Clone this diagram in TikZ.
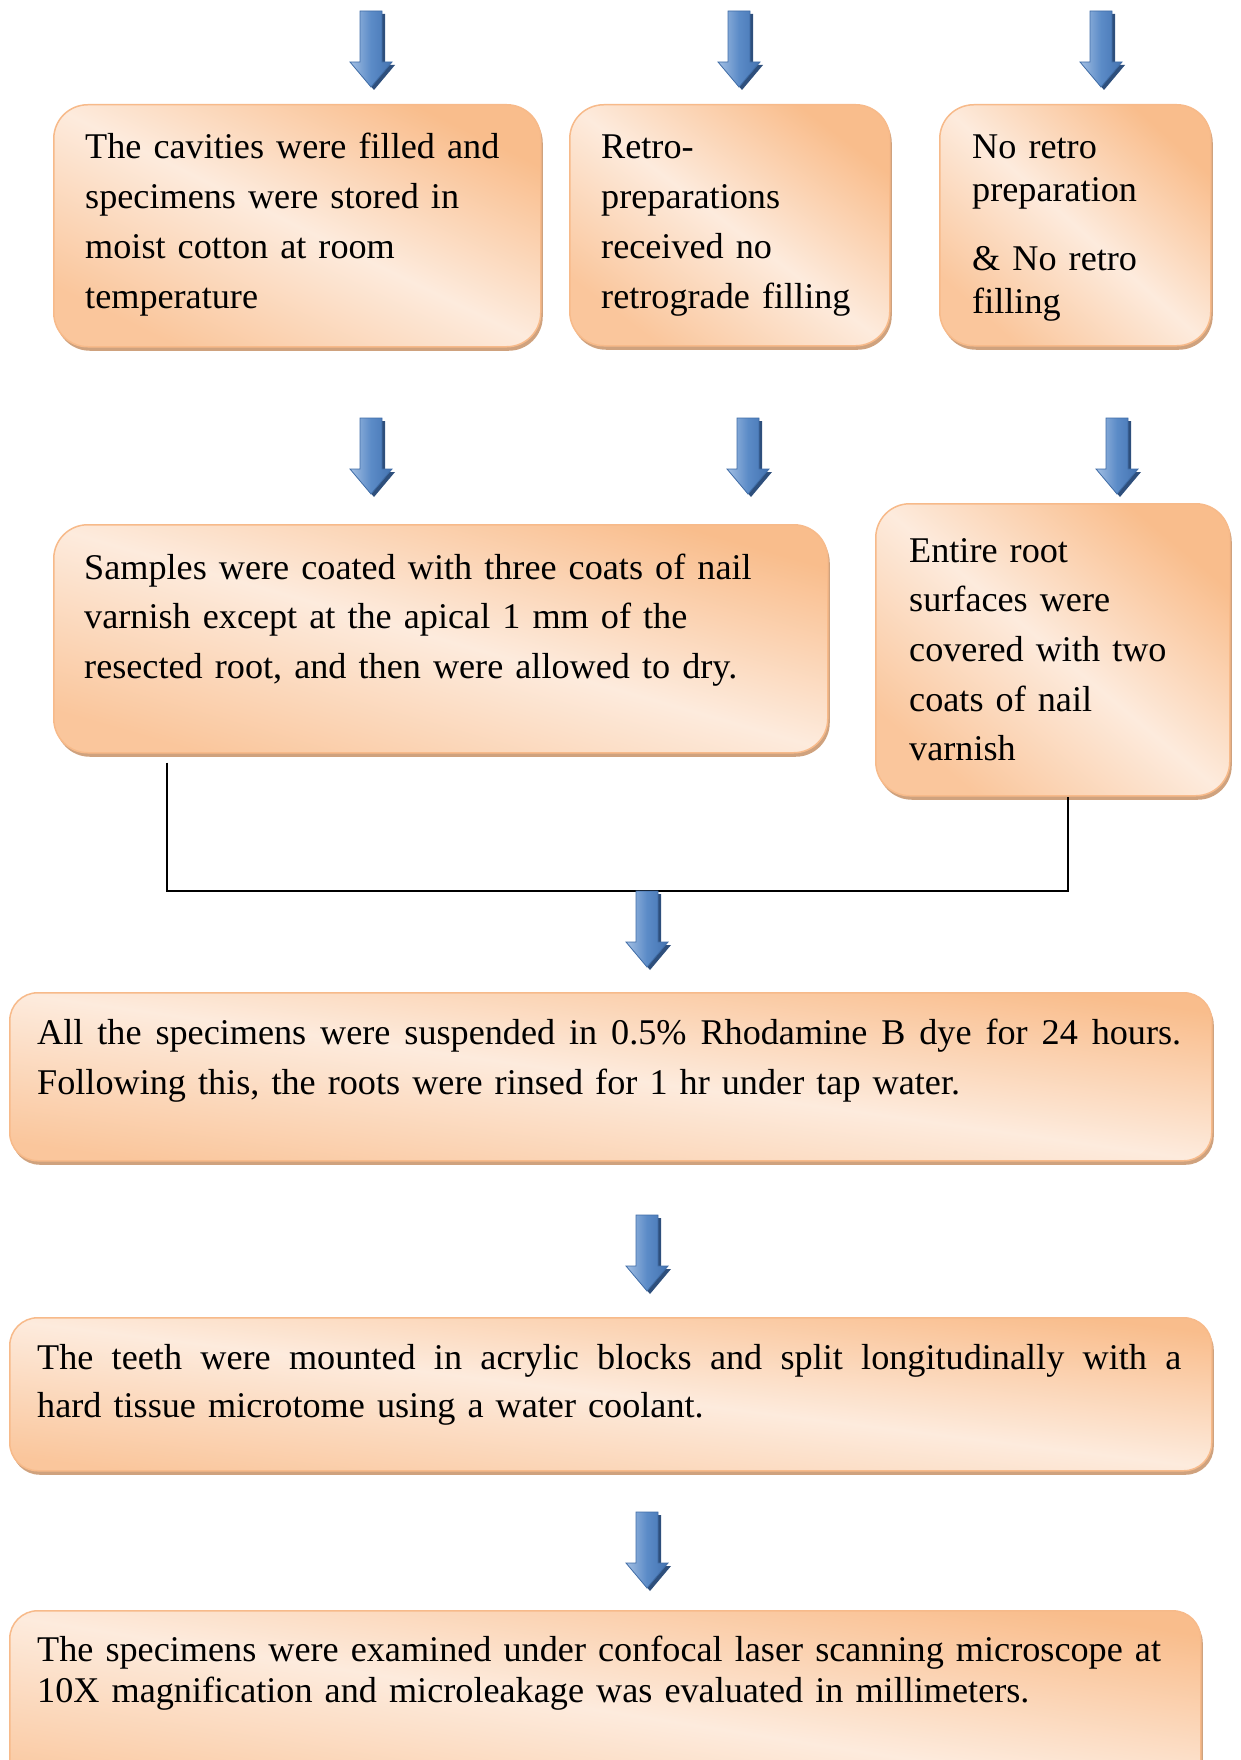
\documentclass[tikz,border=0pt]{standalone}
\usepackage{fontspec}
\setmainfont{Liberation Serif}
\usetikzlibrary{shadows,calc}
\definecolor{peachD}{HTML}{F9BD8C}
\definecolor{peachL}{HTML}{FDEBDD}
\definecolor{peachB}{HTML}{F7BA8A}
\definecolor{boxshadow}{HTML}{CFA27E}
\definecolor{arrL}{HTML}{A3BFE3}
\definecolor{arrM}{HTML}{5B8BC7}
\definecolor{arrR}{HTML}{4473B1}
\definecolor{arrEdge}{HTML}{3F6CA6}
\definecolor{arrShadow}{HTML}{2E4F7C}
\newcommand\jline[1]{\makebox[1144pt][s]{\spaceskip=0pt\relax\xspaceskip=0pt\relax #1}}
\tikzset{
  flowbox/.style={draw=peachB, line width=1.5pt, rounded corners=34pt,
    top color=peachD, bottom color=peachD!80!peachL, middle color=peachL,
    shading angle={#1},
    drop shadow={shadow xshift=2pt, shadow yshift=-4pt, fill=boxshadow, opacity=1},
    anchor=north west, inner sep=0pt},
  widebox/.style={flowbox={#1}, rounded corners=28pt},
  txt/.style={anchor=base west, inner sep=0pt, align=left,
    font=\fontsize{36.2}{49.7}\selectfont},
  conn/.style={line width=1.5pt, black},
  blockarrow/.pic={
    \fill[arrShadow] (-8,3) -- (14,3) -- (14,54) -- (24,54) -- (3,79) -- (-18,54) -- (-8,54) -- cycle;
    \shadedraw[left color=arrL, right color=arrR, middle color=arrM, draw=arrEdge, line width=0.8pt]
      (-11,0) -- (11,0) -- (11,51) -- (21,51) -- (0,76) -- (-21,51) -- (-11,51) -- cycle;
    \coordinate (-tip) at (0,76);
  }
}
\begin{document}
\begin{tikzpicture}[x=1pt,y=-1pt]
\useasboundingbox (0,0) rectangle (1241,1760);

% top arrows
\pic (a1) at (371,11) {blockarrow};
\pic (a2) at (739,11) {blockarrow};
\pic (a3) at (1101,11) {blockarrow};

% first row boxes
\node[flowbox=-26, minimum width=487pt, minimum height=242pt] (b1) at (53,104) {};
\node[flowbox=-37, minimum width=320pt, minimum height=241pt] (b2) at (569,104) {};
\node[flowbox=-42, minimum width=271pt, minimum height=241pt] (b3) at (939,104) {};

\node[txt, text width=450pt] (t1) at (85,159)
  {The cavities were filled and\\specimens were stored in\\moist cotton at room\\temperature};
\node[txt, text width=290pt] (t2) at (601,159)
  {Retro-\\preparations\\received no\\retrograde filling};
\node[txt, text width=235pt, font=\fontsize{36.2}{42.5}\selectfont] (t3) at (972,159)
  {No retro\\preparation\\[27pt]\& No retro\\filling};

% second row arrows
\pic (a4) at (371,418) {blockarrow};
\pic (a5) at (748,418) {blockarrow};
\pic (a6) at (1117,418) {blockarrow};

% second row boxes
\node[flowbox=-16, minimum width=774pt, minimum height=228pt] (b4) at (53,524) {};
\node[flowbox=-40, minimum width=354pt, minimum height=292pt] (b5) at (875,503) {};

\node[txt, text width=740pt] (t4) at (84,579)
  {Samples were coated with three coats of nail\\varnish except at the apical 1 mm of the\\resected root, and then were allowed to dry.};
\node[txt, text width=315pt] (t5) at (909,562)
  {Entire root\\surfaces were\\covered with two\\coats of nail\\varnish};

% joining connector
\coordinate (j) at (647,891);
\draw[conn] ([xshift=114pt,yshift=-9pt]b4.south west) |- (j) -| ([xshift=15pt]b5.south);

\pic (a7) at (j) {blockarrow};

% third box
\node[widebox=-8, minimum width=1202pt, minimum height=168pt] (b6) at (9,992) {};
\node[txt, text width=1160pt, font=\fontsize{36.2}{50.5}\selectfont] (t6) at (37,1044)
  {\jline{All the specimens were suspended in 0.5\% Rhodamine B dye for 24 hours.}\\
   Following this, the roots were rinsed for 1 hr under tap water.};

\pic (a8) at (647,1215) {blockarrow};

% fourth box
\node[widebox=-7, minimum width=1202pt, minimum height=153pt] (b7) at (9,1317) {};
\node[txt, text width=1160pt, font=\fontsize{36.2}{48}\selectfont] (t7) at (37,1369)
  {\jline{The teeth were mounted in acrylic blocks and split longitudinally with a}\\
   hard tissue microtome using a water coolant.};

\pic (a9) at (647,1512) {blockarrow};

% fifth box
\node[widebox=-9, minimum width=1191pt, minimum height=200pt] (b8) at (9,1610) {};
\node[txt, text width=1160pt, font=\fontsize{36.2}{41}\selectfont] (t8) at (37,1661)
  {The specimens were examined under confocal laser scanning microscope at\\
   10X magnification and microleakage was evaluated in millimeters.};
\end{tikzpicture}
\end{document}
